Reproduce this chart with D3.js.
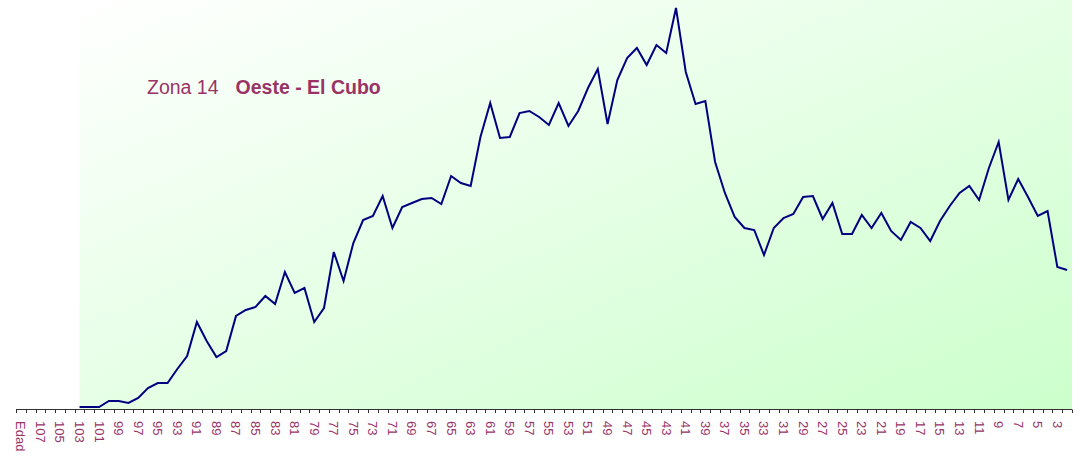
<!DOCTYPE html>
<html>
<head>
<meta charset="utf-8">
<script src="https://cdn.jsdelivr.net/npm/d3@7"></script>
<style>
  body { margin: 0; background: #fff; }
  svg { display: block; }
</style>
</head>
<body>
<script>
// population by age, zona 14 (ages 103 down to 2)
let ages = d3.range(103, 1, -1);
let values = [
    0, 0, 0, 3, 3, 2, 4.5, 9.5, 12, 12,            // 103..94
    19, 25.5, 42.5, 33, 25, 28, 45.5, 48.5, 50, 55.5, // 93..84
    51.5, 67.5, 57, 59.5, 42.5, 49.5, 77.5, 63, 82, 93.5, // 83..74
    95.5, 105.5, 89.5, 100, 102, 104, 104.5, 101.5, 115.5, 112, // 73..64
    110.5, 135, 152, 134.5, 135, 147, 148, 145, 141, 152, // 63..54
    140.5, 148, 159.5, 169, 141.5, 163.5, 174.5, 179.5, 171, 181, // 53..44
    177, 199.5, 167.5, 151.5, 153, 122.5, 107, 95, 89.5, 88.5, // 43..34
    76, 89.5, 94.5, 96.5, 105, 105.5, 94, 102, 86.5, 86.5, // 33..24
    96, 89.5, 97, 88, 83.5, 92.5, 89.5, 83, 93, 100.5, // 23..14
    107, 110.5, 103.5, 119.5, 132.5, 103.5, 114, 105, 95.5, 98, // 13..4
    70, 68.5                                        // 3..2
];
// axis categories: "Edad" then 108 .. 2
let categories = ["Edad"].concat(d3.range(108, 1, -1).map(String));
let title = "Zona 14";
let zoneName = "Oeste - El Cubo";

let width = 1082, height = 465;
let textColor = "#993366";

let svg = d3.select("body").append("svg").attr("width", width).attr("height", height);

let x = d3.scaleBand().domain(categories).range([16, 1072]).padding(0);
let y = d3.scaleLinear().domain([0, 200]).range([407, 7]);

let defs = svg.append("defs");
let grad = defs.append("linearGradient").attr("id", "bg")
    .attr("x1", "0").attr("y1", "0").attr("x2", "1").attr("y2", "1");
grad.append("stop").attr("offset", "0").attr("stop-color", "#ffffff");
grad.append("stop").attr("offset", "1").attr("stop-color", "#ccffcc");

let plotLeft = x(String(ages[0])) + x.bandwidth() / 2;
svg.append("rect")
    .attr("x", plotLeft).attr("y", 0)
    .attr("width", 1072 - plotLeft).attr("height", 409)
    .attr("fill", "url(#bg)");

// axis line and ticks at band edges
let axisY = 409.5;
let axis = svg.append("g").attr("class", "axis");
axis.append("line")
    .attr("x1", 16).attr("x2", 1072).attr("y1", axisY).attr("y2", axisY)
    .attr("stroke", "#333").attr("stroke-width", 1);

let edges = categories.map(c => x(c)).concat([x.range()[1]]);
axis.selectAll("line.tick").data(edges).enter().append("line")
    .attr("class", "tick")
    .attr("x1", d => Math.round(d) + 0.5).attr("x2", d => Math.round(d) + 0.5)
    .attr("y1", axisY).attr("y2", axisY + 3.5)
    .attr("stroke", "#333");

axis.selectAll("text").data(categories.filter((c, i) => i % 2 == 0)).enter().append("text")
    .attr("transform", d => "translate(" + (x(d) + x.bandwidth() / 2) + "," + 421 + ") rotate(90)")
    .attr("dy", "0.35em")
    .attr("fill", textColor)
    .style("font-family", "'Liberation Sans', Arial, sans-serif")
    .style("font-size", "13px")
    .text(d => d);

// the line
let line = d3.line()
    .x((d, i) => x(String(ages[i])) + x.bandwidth() / 2)
    .y(d => y(d));

svg.append("path")
    .datum(values)
    .attr("d", line)
    .attr("fill", "none")
    .attr("stroke", "#000080")
    .attr("stroke-width", 2)
    .attr("stroke-linejoin", "miter");

// title
let t = svg.append("text")
    .attr("x", 147).attr("y", 94)
    .attr("fill", textColor)
    .style("font-family", "'Liberation Sans', Arial, sans-serif")
    .style("font-size", "19.5px");
t.append("tspan").text(title);
t.append("tspan").attr("dx", 17).style("font-weight", "bold").text(zoneName);
</script>
</body>
</html>
